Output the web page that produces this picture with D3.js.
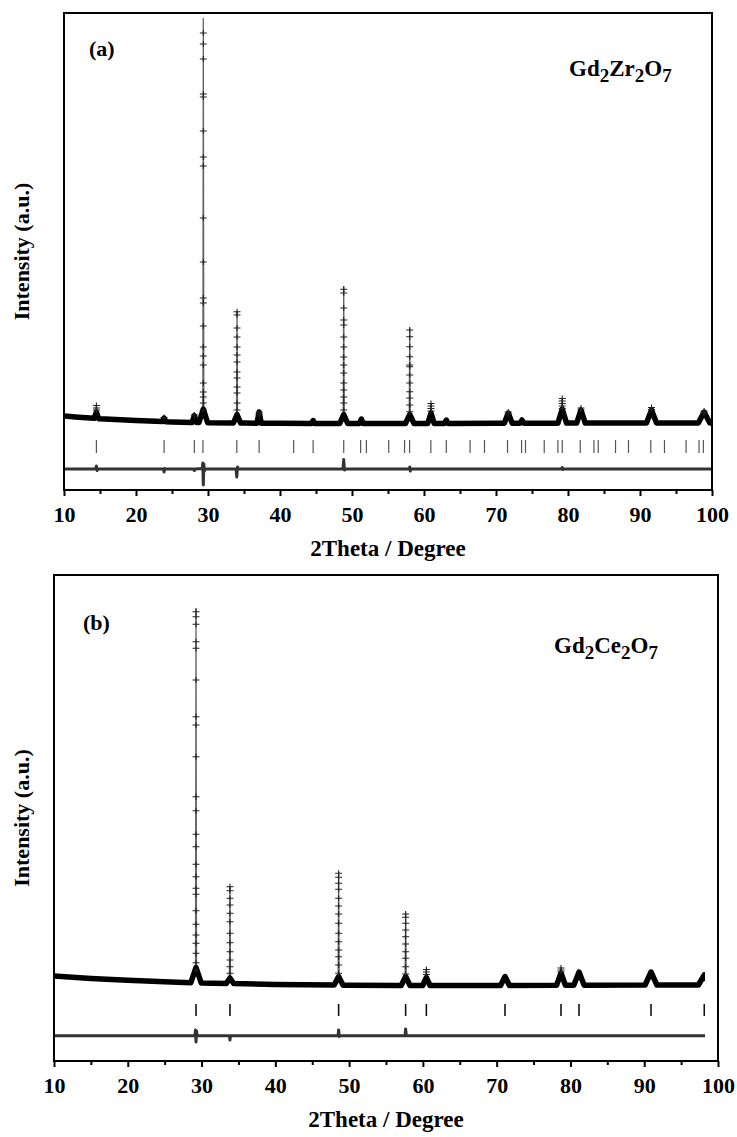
<!DOCTYPE html>
<html>
<head>
<meta charset="utf-8">
<script src="https://cdn.jsdelivr.net/npm/d3@7"></script>
<style>
  body { margin: 0; background: #fff; }
  svg text { font-family: "Liberation Serif", "Times New Roman", serif !important; font-weight: bold; fill: #000; }
</style>
</head>
<body>
<svg id="chart" width="737" height="1137"></svg>
<script>
//---------------- Data ----------------
//Panel (a) Gd2Zr2O7 : background of the observed pattern [2theta, intensity]
const bgA = [[10,440],[12,415],[15,385],[20,348],[25,322],[30,305],[35,298],[40,294],[50,290],[60,290],[70,294],[80,298],[90,300],[100,300]];
//Reflections [2theta, peak top, foot hump, half width of hump]
const peaksA = [[14.5,660,520,0.3],[23.9,410,400,0.25],[28.1,470,450,0.3],[29.35,8400,580,0.6],
  [34.03,2540,470,0.5],[37.1,520,520,0.3],[44.6,350,350,0.2],[48.85,3040,470,0.55],[51.3,380,380,0.25],
  [58.02,2200,470,0.6],[60.97,700,500,0.45],[63.1,360,360,0.25],[71.7,520,500,0.55],[73.6,360,360,0.25],
  [79.2,800,580,0.6],[81.8,600,560,0.6],[91.6,620,560,0.7],[98.9,540,520,0.8]];
//Observed points (+) sitting on the peaks [2theta, intensity]
const obsA = [
  [29.35,8100],[29.35,7880],[29.35,7580],[29.35,6880],[29.35,6820],[29.35,6140],[29.35,5620],[29.35,5440],
  [29.35,4400],[29.35,3520],[29.35,2800],[29.35,2700],[29.35,2240],[29.35,1820],[29.35,1640],[29.35,1460],
  [29.35,1100],[29.35,920],[29.35,820],[29.35,700],[29.35,560],
  [34.03,2526],[34.03,2460],[34.03,2200],[34.03,2020],[34.03,1820],[34.03,1660],[34.03,1520],[34.03,1320],
  [34.03,1200],[34.03,1020],[34.03,900],[34.03,700],[34.03,560],
  [48.85,2974],[48.85,2900],[48.85,2600],[48.85,2360],[48.85,2260],[48.85,2020],[48.85,1820],[48.85,1620],
  [48.85,1460],[48.85,1300],[48.85,1100],[48.85,960],[48.85,820],[48.85,700],[48.85,560],
  [58.02,2160],[58.02,2026],[58.02,1826],[58.02,1626],[58.02,1460],[58.02,1426],[58.02,1260],[58.02,1100],
  [58.02,926],[58.02,800],[58.02,660],[58.02,526],
  [14.5,650],[14.5,600],[14.5,560],[23.9,410],[28.1,460],[37.1,510],[37.1,470],
  [60.97,690],[60.97,640],[60.97,590],[60.97,540],[71.7,520],[71.7,480],
  [79.2,790],[79.2,740],[79.2,690],[79.2,640],[79.2,590],[81.8,600],[81.8,560],
  [91.6,610],[91.6,570],[98.9,540],[98.9,500]];
//Bragg positions
const braggA = [14.5,23.9,28.1,29.3,34.0,37.1,41.9,44.6,48.85,51.2,52.0,55.1,57.3,58.0,60.95,63.1,66.4,68.4,
  71.6,73.55,74.1,76.7,78.6,79.2,81.7,83.6,84.2,86.6,88.4,91.5,93.4,96.4,98.2,98.8];
//Difference curve (obs - calc, shifted)
const diffA = [[10,-620],[14.4,-620],[14.5,-560],[14.6,-650],[14.7,-620],[23.8,-620],[23.9,-680],[24.0,-610],
  [24.1,-620],[28.0,-620],[28.1,-650],[28.2,-620],[29.2,-610],[29.28,-500],[29.35,-940],[29.42,-520],[29.5,-660],
  [29.6,-620],[33.9,-620],[34.0,-780],[34.1,-580],[34.2,-620],[48.75,-620],[48.85,-430],[48.95,-640],[49.05,-620],
  [57.95,-620],[58.02,-580],[58.1,-660],[58.2,-620],[79.1,-620],[79.2,-590],[79.3,-630],[79.4,-620],[100,-620]];

//Panel (b) Gd2Ce2O7
const bgB = [[10,480],[15,430],[20,395],[25,365],[30,340],[40,312],[50,295],[60,290],[70,290],[80,295],[90,300],[98.25,300]];
const peaksB = [[29.25,7840,650,0.7],[33.85,2280,440,0.5],[48.58,2560,470,0.6],[57.66,1740,470,0.6],
  [60.47,620,450,0.5],[71.13,470,470,0.6],[78.72,650,540,0.6],[81.16,560,560,0.7],[90.92,560,560,0.8],[98.14,500,500,0.8]];
const obsB = [
  [29.25,7766],[29.25,7666],[29.25,7514],[29.25,7166],[29.25,7034],[29.25,6400],[29.25,5666],[29.25,5500],
  [29.25,4866],[29.25,4066],[29.25,3786],[29.25,3314],[29.25,3066],[29.25,2714],[29.25,2466],[29.25,2234],
  [29.25,2114],[29.25,1786],[29.25,1514],[29.25,1300],[29.25,1134],[29.25,934],[29.25,746],[29.25,600],
  [33.85,2266],[33.85,2186],[33.85,2034],[33.85,1900],[33.85,1734],[33.85,1566],[33.85,1334],[33.85,1146],
  [33.85,966],[33.85,800],[33.85,666],[33.85,534],
  [48.58,2534],[48.58,2454],[48.58,2334],[48.58,2214],[48.58,2034],[48.58,1880],[48.58,1720],[48.58,1534],
  [48.58,1334],[48.58,1166],[48.58,1000],[48.58,866],[48.58,700],[48.58,534],
  [57.66,1720],[57.66,1654],[57.66,1534],[57.66,1400],[57.66,1266],[57.66,1120],[57.66,966],[57.66,834],
  [57.66,666],[57.66,520],
  [60.47,610],[60.47,560],[60.47,510],[78.72,640],[78.72,600],[78.72,560]];
const braggB = [29.25,33.85,48.58,57.66,60.47,71.13,78.72,81.16,90.92,98.14];
const diffB = [[10,-715],[29.1,-715],[29.18,-600],[29.25,-840],[29.32,-620],[29.4,-715],[33.78,-715],[33.85,-800],
  [33.92,-715],[48.5,-715],[48.58,-600],[48.66,-730],[48.75,-715],[57.58,-715],[57.66,-580],[57.75,-715],
  [98.25,-715]];

//Tick values of the 2theta axis
const majorTicks = [10,20,30,40,50,60,70,80,90,100];
const minorTicks = [15,25,35,45,55,65,75,85,95];

//---------------- Layout of the two panels ----------------
const serif = "'Liberation Serif', 'Times New Roman', serif";
const panels = [
  {left:64, right:712, top:13, bottom:490, yDom:[-1040,8500], end:100,
   label:"(a)", labelX:89, labelY:56, formula:["Gd","2","Zr","2","O","7"], fX:569, fY:76,
   bg:bgA, peaks:peaksA, obs:obsA, bragg:braggA, braggRange:[-40,-300], diff:diffA,
   braggColor:"#555", braggWidth:1.2},
  {left:54, right:718, top:575, bottom:1061, yDom:[-1220,8500], end:98.25,
   label:"(b)", labelX:83, labelY:630, formula:["Gd","2","Ce","2","O","7"], fX:554, fY:653,
   bg:bgB, peaks:peaksB, obs:obsB, bragg:braggB, braggRange:[-80,-320], diff:diffB,
   braggColor:"#111", braggWidth:1.6}
];

let svg = d3.select("#chart");
let plus = "M-3.5,0H3.5M0,-3V3";

panels.forEach(function(p, k){
  let x = d3.scaleLinear().domain([10, 100]).range([p.left, p.right]);
  let y = d3.scaleLinear().domain(p.yDom).range([p.bottom, p.top]);
  let line = d3.line().x(d => x(d[0])).y(d => y(d[1]));
  //background level at any angle, used for the feet of the humps
  let bgAt = d3.scaleLinear().domain(p.bg.map(d => d[0])).range(p.bg.map(d => d[1]));

  let g = svg.append("g");
  //data do not go past the end of the measured range
  g.append("clipPath").attr("id", "clip" + k)
    .append("rect").attr("x", x(10)).attr("y", p.top).attr("width", x(p.end) - x(10)).attr("height", p.bottom - p.top);
  let data = g.append("g").attr("clip-path", "url(#clip" + k + ")");

  //calculated profile: thin spikes
  p.peaks.forEach(function(pk){
    data.append("path")
      .attr("d", line([[pk[0] - 0.07, pk[2]], [pk[0], pk[1]], [pk[0] + 0.07, pk[2]]]))
      .attr("fill", "none").attr("stroke", "#666").attr("stroke-width", 1.3);
  });

  //observed pattern: dense + markers merge into a thick band with humps at the reflections
  let band = p.bg.filter(d => !p.peaks.some(pk => Math.abs(d[0] - pk[0]) < pk[3]))
    .concat(p.peaks.flatMap(pk => [[pk[0] - pk[3], bgAt(pk[0] - pk[3])], [pk[0], pk[2]], [pk[0] + pk[3], bgAt(Math.min(pk[0] + pk[3], p.end))]]))
    .sort((a, b) => a[0] - b[0]);
  data.append("path").attr("d", line(band))
    .attr("fill", "none").attr("stroke", "#000").attr("stroke-width", 5.5)
    .attr("stroke-linejoin", "round").attr("stroke-linecap", "butt");

  //observed points on the peaks
  data.selectAll(".obs").data(p.obs).enter().append("path")
    .attr("class", "obs")
    .attr("transform", d => "translate(" + x(d[0]) + "," + y(d[1]) + ")")
    .attr("d", plus).attr("fill", "none").attr("stroke", "#222").attr("stroke-width", 1.1);

  //Bragg reflection markers
  data.selectAll(".bragg").data(p.bragg).enter().append("line")
    .attr("class", "bragg")
    .attr("x1", d => x(d)).attr("x2", d => x(d))
    .attr("y1", y(p.braggRange[0])).attr("y2", y(p.braggRange[1]))
    .attr("stroke", p.braggColor).attr("stroke-width", p.braggWidth);

  //difference curve
  data.append("path").attr("d", line(p.diff))
    .attr("fill", "none").attr("stroke", "#333").attr("stroke-width", 3)
    .attr("stroke-linejoin", "round");

  //frame
  g.append("rect").attr("x", p.left).attr("y", p.top)
    .attr("width", p.right - p.left).attr("height", p.bottom - p.top)
    .attr("fill", "none").attr("stroke", "#000").attr("stroke-width", 2);

  //major and minor ticks of the x axis
  let axMajor = g.append("g").attr("transform", "translate(0," + p.bottom + ")")
    .call(d3.axisBottom(x).tickValues(majorTicks).tickSize(6).tickFormat(d3.format("d")));
  let axMinor = g.append("g").attr("transform", "translate(0," + p.bottom + ")")
    .call(d3.axisBottom(x).tickValues(minorTicks).tickSize(4).tickFormat(""));
  [axMajor, axMinor].forEach(function(a){
    a.attr("font-family", serif);
    a.select(".domain").remove();
    a.selectAll("line").attr("stroke", "#000").attr("stroke-width", 2);
  });
  axMajor.selectAll("text").attr("y", 32).attr("dy", null)
    .style("font-size", "22px").style("font-family", serif);

  //x title
  g.append("text").attr("x", (p.left + p.right) / 2).attr("y", p.bottom + 66)
    .attr("text-anchor", "middle").style("font-family", serif).style("font-size", "23px").text("2Theta / Degree");
  //y title
  g.append("text").attr("transform", "translate(29," + (p.top + p.bottom) / 2 + ") rotate(-90)")
    .attr("text-anchor", "middle").style("font-family", serif).style("font-size", "22px").text("Intensity (a.u.)");
  //panel label
  g.append("text").attr("x", p.labelX).attr("y", p.labelY)
    .style("font-family", serif).style("font-size", "22px").text(p.label);
  //compound formula with subscripts
  let f = g.append("text").attr("x", p.fX).attr("y", p.fY)
    .style("font-family", serif).style("font-size", "23px");
  p.formula.forEach(function(s, i){
    let sub = i % 2 == 1;
    f.append("tspan").attr("dy", i == 0 ? 0 : (sub ? 6 : -6))
      .style("font-size", sub ? "19px" : "23px").text(s);
  });
});
</script>
</body>
</html>
